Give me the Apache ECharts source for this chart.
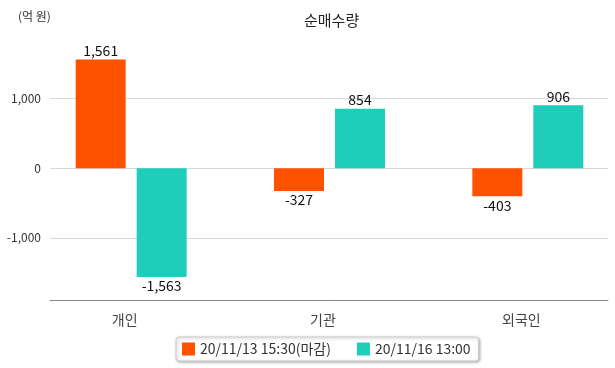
<!DOCTYPE html>
<html><head><meta charset="utf-8">
<script src="https://cdn.jsdelivr.net/npm/echarts@6/dist/echarts.min.js"></script>
<style>html,body{margin:0;padding:0;background:#fff;overflow:hidden}#c{width:632px;height:368px}</style>
</head><body><div id="c"></div>
<script>
const categories = ['개인', '기관', '외국인'];
const seriesNames = ['20/11/13 15:30(마감)', '20/11/16 13:00'];
const series1 = [1561, -327, -403];
const series2 = [-1563, 854, 906];
const yTicks = [-1000, 0, 1000];

const FONT = '"Noto Sans CJK KR", "Noto Sans", sans-serif';
const fmt = v => v.toLocaleString('en-US');
const chart = echarts.init(document.getElementById('c'));
const lbl = {
  show: true, fontSize: 14, color: '#111', fontFamily: FONT,
  formatter: p => fmt(p.value)
};
function mkData(arr) {
  return arr.map(v => ({ value: v, label: { position: v >= 0 ? 'top' : 'bottom', distance: 2 } }));
}
chart.setOption({
  animation: false,
  title: [
    { text: '순매수량', left: 299, top: 8, textStyle: { fontSize: 15, fontWeight: 'normal', color: '#222', fontFamily: FONT } },
    { text: '(억 원)', left: 13, top: 5, textStyle: { fontSize: 12, fontWeight: 'normal', color: '#333', fontFamily: FONT } }
  ],
  legend: {
    left: 176, top: 337, padding: [5, 8, 5, 6], itemGap: 26,
    itemWidth: 13, itemHeight: 13, icon: 'rect',
    borderColor: '#ccc', borderWidth: 1, borderRadius: 3,
    backgroundColor: '#fff', shadowColor: 'rgba(0,0,0,0.3)', shadowBlur: 3, shadowOffsetX: 1, shadowOffsetY: 1,
    textStyle: { fontSize: 14, color: '#333', fontFamily: FONT },
    data: seriesNames
  },
  grid: [
    { left: 32, right: 5, top: 36, bottom: 67.5 },
    { left: 50, right: 24, top: 36, bottom: 67.5 }
  ],
  xAxis: [
    { type: 'category', gridIndex: 0, data: categories,
      axisLine: { show: false }, axisTick: { show: false },
      axisLabel: { fontSize: 14, color: '#444', fontFamily: FONT, margin: 12, padding: [0, 13, 0, 0] } },
    { type: 'category', gridIndex: 1, data: categories,
      axisLine: { show: true, onZero: false, lineStyle: { color: '#888' } }, axisTick: { show: false },
      axisLabel: { show: false } }
  ],
  yAxis: [
    { type: 'value', gridIndex: 0, min: -1900, max: 1900, show: false, splitLine: { show: false } },
    { type: 'value', gridIndex: 1, min: -1900, max: 1900,
      axisLine: { show: false },
      axisTick: { show: false, customValues: yTicks },
      axisLabel: { customValues: yTicks, fontSize: 12, color: '#333', fontFamily: FONT, margin: 9, formatter: v => fmt(v) },
      splitLine: { show: true, lineStyle: { color: '#d9d9d9' } } }
  ],
  series: [
    { name: seriesNames[0], type: 'bar', xAxisIndex: 0, yAxisIndex: 0, data: mkData(series1),
      barWidth: 50, barGap: '22%', itemStyle: { color: '#ff5200' }, label: lbl },
    { name: seriesNames[1], type: 'bar', xAxisIndex: 0, yAxisIndex: 0, data: mkData(series2),
      barWidth: 50, barGap: '22%', itemStyle: { color: '#1ecdba' }, label: lbl }
  ]
});
</script></body></html>
